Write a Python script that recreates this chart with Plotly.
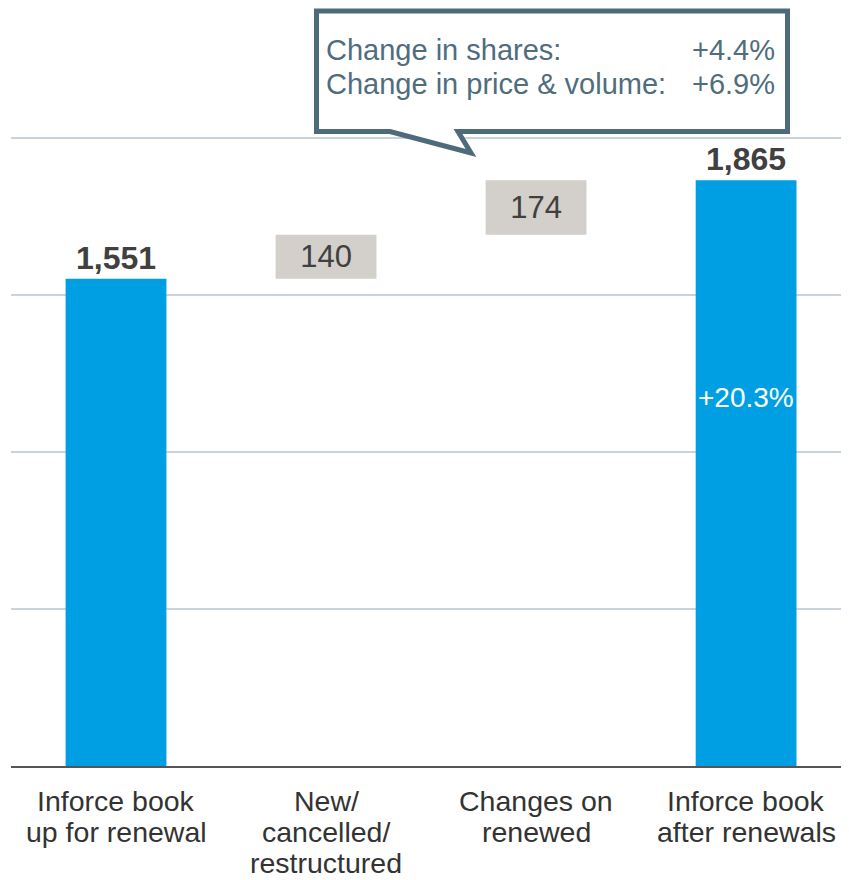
import plotly.graph_objects as go

categories = ["Inforce book<br>up for renewal", "New/<br>cancelled/<br>restructured",
              "Changes on<br>renewed", "Inforce book<br>after renewals"]
start_value = 1551
changes = [140, 174]
end_value = 1865
total_change_label = "+20.3%"
callout_labels = ["Change in shares:", "Change in price & volume:"]
callout_values = ["+4.4%", "+6.9%"]

FONT = "Liberation Sans, Arial, sans-serif"
BLUE = "#009fe3"
GRAY = "#d3cfca"
SLATE = "#4e6b7b"
CALLTXT = "#4f6d7d"
TXT = "#404040"

OFF = 8  # default page body margin
W, H = 841, 872
ML, MR, MT, MB = 3, 0, 67, 114
PW, PH = W - ML - MR, H - MT - MB


def px(x):
    """image pixel x -> paper x"""
    return (x - OFF - ML) / PW


def py(y):
    """image pixel y -> paper y"""
    return (H - MB - (y - OFF)) / PH


fig = go.Figure()

# totals
fig.add_trace(go.Bar(
    x=[categories[0], categories[3]], y=[start_value, end_value],
    marker=dict(color=BLUE, line=dict(width=0)), width=0.48,
    text=[f"{start_value:,}", f"{end_value:,}"], textposition="outside",
    textfont=dict(family=FONT, size=32, color=TXT, weight="bold"),
    cliponaxis=False, hoverinfo="skip"))

# floating changes
bases = [start_value, start_value + changes[0]]
fig.add_trace(go.Bar(
    x=categories[1:3], y=changes, base=bases,
    marker=dict(color=GRAY, line=dict(width=0)), width=0.48,
    text=[str(v) for v in changes], textposition="inside", insidetextanchor="middle",
    constraintext="none",
    textfont=dict(family=FONT, size=31, color=TXT),
    hoverinfo="skip"))

fig.add_annotation(x=categories[3], y=1172, xref="x", yref="y", text=total_change_label,
                   showarrow=False, font=dict(family=FONT, size=28, color="white"))

# category labels, one line at a time (tight line spacing)
for cat in categories:
    for i, line in enumerate(cat.split("<br>")):
        fig.add_annotation(x=cat, xref="x", y=py(801 + 31 * i), yref="paper",
                           text=line, showarrow=False, yanchor="middle",
                           font=dict(family=FONT, size=28.5, color="#333333"))

# callout box
path = (f"M {px(316.5)},{py(11)} L {px(787.5)},{py(11)} L {px(787.5)},{py(131.5)} "
        f"L {px(458)},{py(131.5)} L {px(471)},{py(153)} L {px(390)},{py(131.5)} "
        f"L {px(316.5)},{py(131.5)} Z")
fig.add_shape(type="path", path=path, xref="paper", yref="paper",
              line=dict(color=SLATE, width=5), fillcolor="white", layer="above")
for i, (lab, val) in enumerate(zip(callout_labels, callout_values)):
    yy = py(50 + 34 * i)
    fig.add_annotation(x=px(324), y=yy, xref="paper", yref="paper", text=lab,
                       xanchor="left", yanchor="middle", showarrow=False,
                       font=dict(family=FONT, size=29, color=CALLTXT))
    fig.add_annotation(x=px(777), y=yy, xref="paper", yref="paper", text=val,
                       xanchor="right", yanchor="middle", showarrow=False,
                       font=dict(family=FONT, size=29, color=CALLTXT))

fig.update_layout(
    width=W, height=H, margin=dict(l=ML, r=MR, t=MT, b=MB),
    paper_bgcolor="white", plot_bgcolor="white", showlegend=False,
    xaxis=dict(type="category", categoryorder="array", categoryarray=categories,
               range=[-0.5, 3.49], showline=True, linecolor="#555555",
               linewidth=2, ticks="", showgrid=False, showticklabels=False),
    yaxis=dict(range=[0, 2200], tickvals=[500, 1000, 1500, 2000], showticklabels=False,
               showgrid=True, gridcolor="#c9d3dc", gridwidth=1.5, zeroline=False),
)

fig.write_html("out.html")
